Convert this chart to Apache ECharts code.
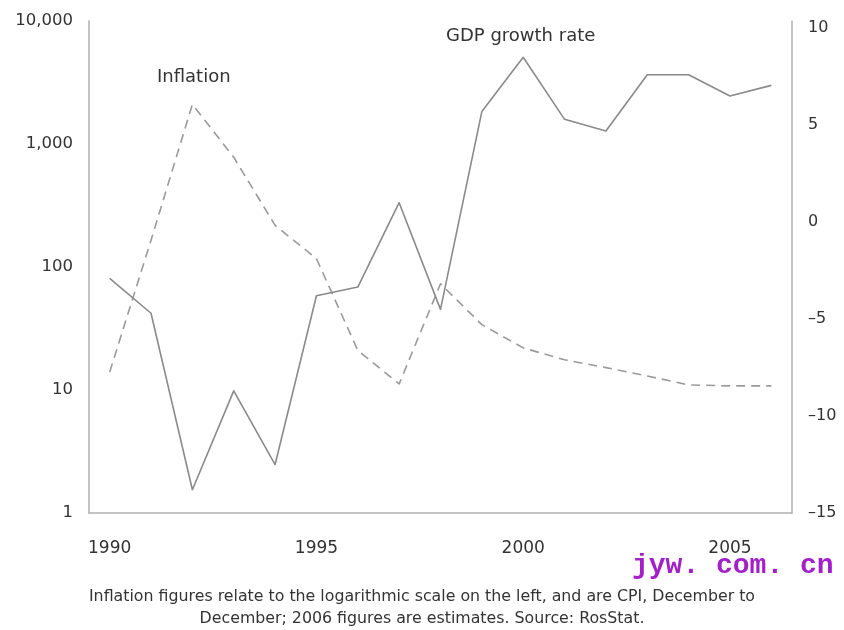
<!DOCTYPE html>
<html>
<head>
<meta charset="utf-8">
<script src="https://cdn.jsdelivr.net/npm/echarts@6/dist/echarts.min.js"></script>
<style>
html,body{margin:0;padding:0;background:#fff;}
#chart{width:844px;height:630px;}
</style>
</head>
<body>
<div id="chart"></div>
<script>
const years = ['1990','1991','1992','1993','1994','1995','1996','1997','1998','1999','2000','2001','2002','2003','2004','2005','2006'];
const inflation = [14, 165, 2100, 780, 218, 117, 21, 11.2, 73, 34, 22, 17.6, 15.2, 13, 11, 10.8, 10.8];
const gdpGrowth = [-2.9, -4.7, -13.8, -8.7, -12.5, -3.8, -3.35, 1.0, -4.5, 5.7, 8.5, 5.3, 4.7, 7.6, 7.6, 6.5, 7.05];
const inflationLabel = 'Inflation';
const gdpLabel = 'GDP growth rate';
const captionLines = [
  'Inflation figures relate to the logarithmic scale on the left, and are CPI, December to',
  'December; 2006 figures are estimates. Source: RosStat.'
];
const watermark = 'jyw. com. cn';

const FONT = '"DejaVu Sans", sans-serif';
const chart = echarts.init(document.getElementById('chart'), null, {renderer: 'canvas'});
chart.setOption({
  animation: false,
  backgroundColor: '#fff',
  grid: {left: 89, right: 52, top: 21, bottom: 117, containLabel: false},
  xAxis: {
    type: 'category',
    data: years,
    boundaryGap: true,
    axisLine: {show: true, onZero: false, lineStyle: {color: '#b0b0b0', width: 1.5}},
    axisTick: {show: false},
    axisLabel: {interval: 4, margin: 27, color: '#333', fontSize: 17, fontFamily: FONT},
    splitLine: {show: false}
  },
  yAxis: [
    {
      type: 'log', logBase: 10, min: 1, max: 10000, position: 'left',
      axisLine: {show: true, lineStyle: {color: '#b0b0b0', width: 1.5}},
      axisTick: {show: false},
      splitLine: {show: false},
      axisLabel: {margin: 16, color: '#333', fontSize: 16.5, fontFamily: FONT,
        formatter: v => Math.round(v).toLocaleString('en-US')}
    },
    {
      type: 'value', min: -15, max: 10.37, interval: 5, position: 'right',
      axisLine: {show: true, lineStyle: {color: '#b0b0b0', width: 1.5}},
      axisTick: {show: false},
      splitLine: {show: false},
      axisLabel: {margin: 16, color: '#333', fontSize: 16, fontFamily: FONT, showMaxLabel: true,
        formatter: v => (Math.abs(v % 5) < 1e-6 ? String(v).replace('-', '\u2013') : '')}
    }
  ],
  series: [
    {
      name: 'Inflation', type: 'line', yAxisIndex: 0, data: inflation,
      symbol: 'none', smooth: false,
      lineStyle: {color: '#9a9a9a', width: 1.6, type: [9, 6], join: 'round'}
    },
    {
      name: 'GDP', type: 'line', yAxisIndex: 1, data: gdpGrowth,
      symbol: 'none', smooth: false,
      lineStyle: {color: '#8a8a8a', width: 1.6, join: 'round'}
    }
  ],
  graphic: [
    {type: 'text', left: 157, top: 68, style: {text: inflationLabel, font: '18px ' + FONT, fill: '#333'}},
    {type: 'text', left: 446, top: 27, style: {text: gdpLabel, font: '18px ' + FONT, fill: '#333'}},
    {type: 'text', left: 'center', top: 589, style: {text: captionLines[0], font: '15.8px ' + FONT, fill: '#333'}},
    {type: 'text', left: 'center', top: 611, style: {text: captionLines[1], font: '15.8px ' + FONT, fill: '#333'}},
    {type: 'text', left: 632, top: 552, style: {text: watermark, font: 'bold 28px "Liberation Mono", "DejaVu Sans Mono", monospace', fill: '#a21fc9'}}
  ]
});
</script>
</body>
</html>
